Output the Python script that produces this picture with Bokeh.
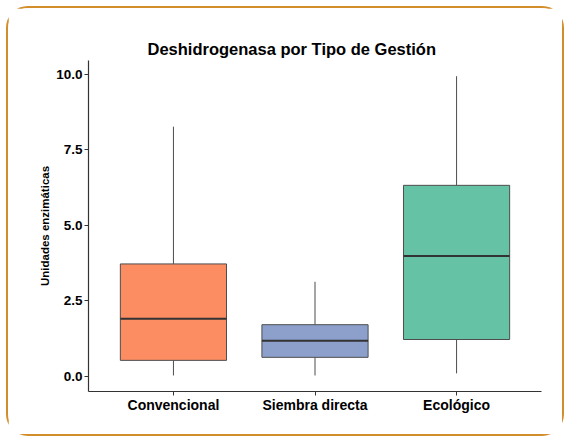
from bokeh.plotting import figure
from bokeh.models import FixedTicker, PrintfTickFormatter, Range1d, ColumnDataSource
from bokeh.embed import file_html
from bokeh.resources import INLINE

categories = ["Convencional", "Siembra directa", "Ecológico"]
whisker_low = [0.03, 0.03, 0.10]
q1 = [0.53, 0.63, 1.22]
median = [1.91, 1.18, 3.98]
q3 = [3.72, 1.71, 6.32]
whisker_high = [8.26, 3.13, 9.93]
colors = ["#FC8D62", "#8DA0CB", "#66C2A5"]
y_ticks = [0.0, 2.5, 5.0, 7.5, 10.0]

xs = [i + 1 for i in range(len(categories))]
src = ColumnDataSource(dict(x=xs, lo=whisker_low, q1=q1, med=median, q3=q3,
                            hi=whisker_high, color=colors,
                            left=[x - 0.375 for x in xs], right=[x + 0.375 for x in xs]))

FONT = "Liberation Sans"

p = figure(width=558, height=430, output_backend="svg", toolbar_location=None,
           x_range=Range1d(0.4, 3.6), y_range=Range1d(-0.5, 10.45),
           min_border_left=80, min_border_right=25, min_border_top=52, min_border_bottom=47)

p.margin = (6, 0, 0, 6)
p.styles = {"border": "2.5px solid #D28E2B", "border-radius": "22px", "box-sizing": "border-box"}
p.background_fill_color = "white"
p.border_fill_color = "white"
p.outline_line_color = None
p.grid.visible = False

# whiskers
p.segment(x0="x", y0="q3", x1="x", y1="hi", source=src, line_color="#4d4d4d", line_width=1)
p.segment(x0="x", y0="lo", x1="x", y1="q1", source=src, line_color="#4d4d4d", line_width=1)
# boxes
p.quad(left="left", right="right", bottom="q1", top="q3", source=src,
       fill_color="color", line_color="#4d4d4d", line_width=1)
# medians
p.segment(x0="left", y0="med", x1="right", y1="med", source=src, line_color="#333333", line_width=2)

p.title.text = "Deshidrogenasa por Tipo de Gestión"
p.title.text_font = FONT
p.title.text_font_size = "16.5px"
p.title.text_font_style = "bold"
p.title.text_color = "black"
p.title.align = "left"
p.title.offset = 59
p.title.standoff = 6

p.xaxis.ticker = FixedTicker(ticks=xs)
p.xaxis.major_label_overrides = {x: c for x, c in zip(xs, categories)}
p.yaxis.ticker = FixedTicker(ticks=y_ticks)
p.yaxis.formatter = PrintfTickFormatter(format="%.1f")
p.yaxis.axis_label = "Unidades enzimáticas"

for ax in (p.xaxis, p.yaxis):
    ax.axis_line_color = "#333333"
    ax.axis_line_width = 1.2
    ax.major_tick_line_color = "#333333"
    ax.major_tick_out = 4
    ax.major_tick_in = 0
    ax.minor_tick_line_color = None
    ax.major_label_text_font = FONT
    ax.major_label_text_font_style = "bold"
    ax.major_label_text_color = "black"
    ax.axis_label_text_font = FONT
    ax.axis_label_text_font_style = "bold"
    ax.axis_label_text_color = "black"
    ax.axis_label_text_font_size = "11.5px"

p.xaxis.major_label_text_font_size = "14px"
p.yaxis.major_label_text_font_size = "13.5px"
p.xaxis.major_label_standoff = 1
p.yaxis.major_label_standoff = 2
p.yaxis.axis_label_standoff = 2

open("out.html", "w").write(file_html(p, INLINE))
